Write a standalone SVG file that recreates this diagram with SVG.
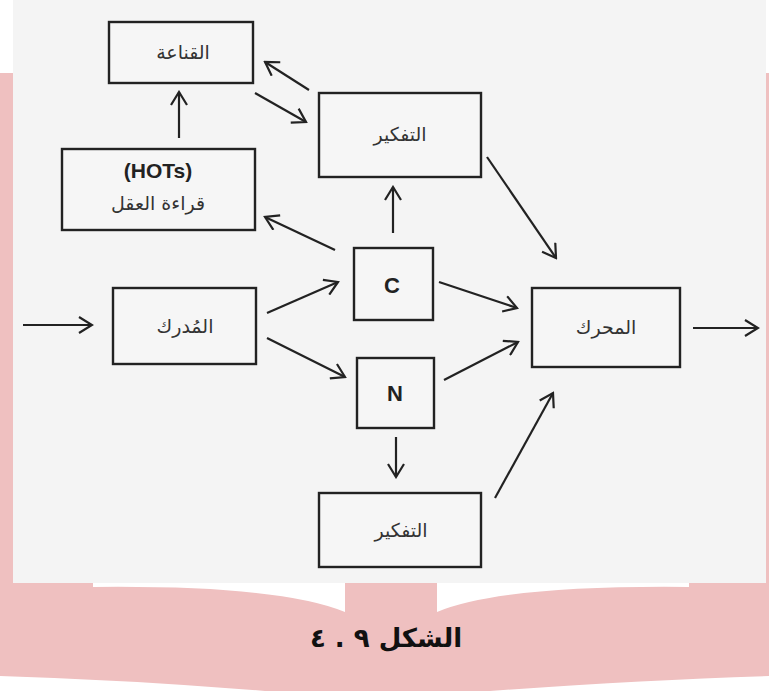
<svg xmlns="http://www.w3.org/2000/svg" width="769" height="691" viewBox="0 0 769 691">
<style>
.box{fill:#f6f6f6;stroke:#222;stroke-width:2.4}
.ar{font-family:"DejaVu Sans",sans-serif;font-size:19px;fill:#333;text-anchor:middle}
.lat{font-family:"Liberation Sans",Arial,sans-serif;font-weight:bold;fill:#222;text-anchor:middle}
.arr{stroke:#222;stroke-width:2.2;fill:none;marker-end:url(#ah)}
</style>
<defs>
<marker id="ah" markerUnits="userSpaceOnUse" viewBox="0 0 16 18" refX="14" refY="9" markerWidth="16" markerHeight="18" orient="auto">
<path d="M1,1 L14,9 L1,17" fill="none" stroke="#222" stroke-width="2.2"/>
</marker>
</defs>
<rect x="0" y="0" width="769" height="691" fill="#ffffff"/>
<rect x="0" y="73" width="769" height="618" fill="#efc0c0"/>
<rect x="13" y="0" width="753" height="583" fill="#f4f4f4"/>
<path d="M93,583 L345,583 L345,612 Q280,585 93,587 Z" fill="#ffffff"/>
<path d="M437,583 L689,583 L689,587 Q502,585 437,612 Z" fill="#ffffff"/>
<path d="M0,676 Q130,680 265,691 L490,691 Q640,680 769,676 L769,691 L0,691 Z" fill="#ffffff"/>

<g id="connectors">
<line class="arr" x1="23" y1="325" x2="92" y2="325"/>
<line class="arr" x1="693" y1="328" x2="758" y2="328"/>
<line class="arr" x1="179" y1="138" x2="179" y2="92"/>
<line class="arr" x1="309" y1="90" x2="265" y2="62"/>
<line class="arr" x1="255" y1="93" x2="306" y2="122"/>
<line class="arr" x1="393" y1="233" x2="393" y2="187"/>
<line class="arr" x1="335" y1="250" x2="265" y2="217"/>
<line class="arr" x1="267" y1="313" x2="338" y2="282"/>
<line class="arr" x1="267" y1="338" x2="345" y2="377"/>
<line class="arr" x1="439" y1="282" x2="517" y2="308"/>
<line class="arr" x1="444" y1="380" x2="518" y2="342"/>
<line class="arr" x1="396" y1="437" x2="396" y2="477"/>
<line class="arr" x1="487" y1="157" x2="556" y2="258"/>
<line class="arr" x1="495" y1="498" x2="553" y2="393"/>
</g>

<g id="node-qanaa">
<rect class="box" x="109" y="22" width="144" height="61"/>
<text class="ar" x="183" y="59">القناعة</text>
</g>
<g id="node-hots">
<rect class="box" x="62" y="149" width="193" height="81"/>
<text class="lat" x="158" y="178" font-size="21">(HOTs)</text>
<text class="ar" x="158" y="210">قراءة العقل</text>
</g>
<g id="node-tafkir-top">
<rect class="box" x="319" y="93" width="162" height="84"/>
<text class="ar" x="400" y="141">التفكير</text>
</g>
<g id="node-mudrik">
<rect class="box" x="113" y="288" width="143" height="76"/>
<text class="ar" x="185" y="333">المُدرك</text>
</g>
<g id="node-c">
<rect class="box" x="354" y="248" width="79" height="72"/>
<text class="lat" x="392" y="293" font-size="22">C</text>
</g>
<g id="node-n">
<rect class="box" x="357" y="358" width="77" height="70"/>
<text class="lat" x="395" y="401" font-size="22">N</text>
</g>
<g id="node-muharrik">
<rect class="box" x="532" y="288" width="148" height="79"/>
<text class="ar" x="606" y="334">المحرك</text>
</g>
<g id="node-tafkir-bottom">
<rect class="box" x="319" y="493" width="162" height="74"/>
<text class="ar" x="401" y="537">التفكير</text>
</g>

<text x="386" y="647" direction="rtl" font-family="DejaVu Sans,sans-serif" font-weight="bold" font-size="26" fill="#111" text-anchor="middle">الشكل ٩ . ٤</text>
</svg>
